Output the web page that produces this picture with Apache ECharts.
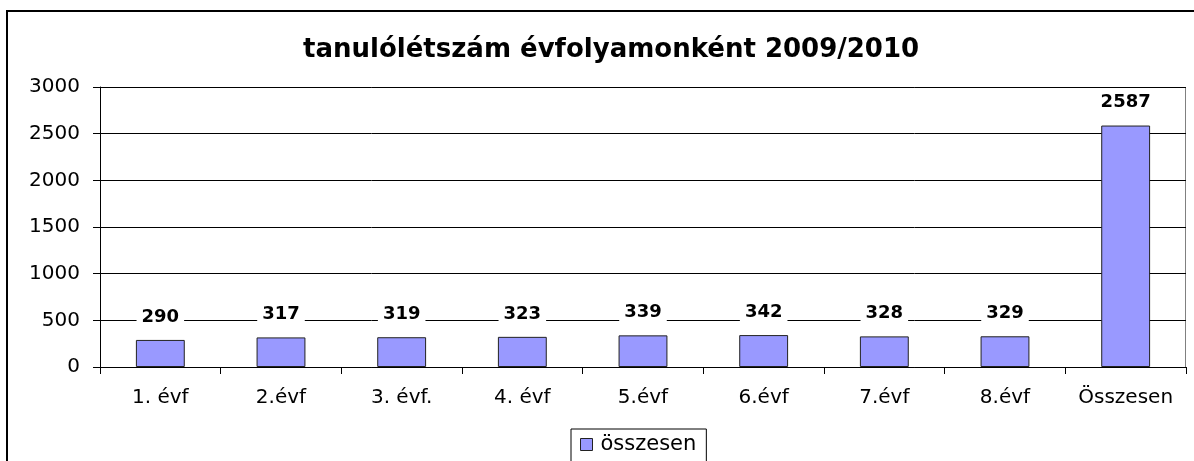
<!DOCTYPE html>
<html>
<head>
<meta charset="utf-8">
<script src="https://cdn.jsdelivr.net/npm/echarts@6/dist/echarts.min.js"></script>
<style>
  html, body { margin: 0; padding: 0; background: #fff; }
  #chart { width: 1194px; height: 461px; }
</style>
</head>
<body>
<div id="chart"></div>
<script>
const categories = ['1. évf', '2.évf', '3. évf.', '4. évf', '5.évf', '6.évf', '7.évf', '8.évf', 'Összesen']
const osszesen = [290, 317, 319, 323, 339, 342, 328, 329, 2587]
const yTicks = [0, 500, 1000, 1500, 2000, 2500, 3000]

const chart = echarts.init(document.getElementById('chart'))
// the original is a bit stretched sideways, DejaVu is wider than Arial
const font = '"DejaVu Sans", Arial, sans-serif'

chart.setOption({
  animation: false,
  textStyle: { fontFamily: font },
  title: {
    text: 'tanulólétszám évfolyamonként 2009/2010',
    left: 298,
    top: 32,
    textStyle: { fontSize: 26, fontWeight: 'bold', color: '#000', fontFamily: font },
  },
  // outer chart border (right/bottom edges fall outside the picture)
  graphic: [
    {
      type: 'rect',
      shape: { x: 7, y: 11, width: 1300, height: 600 },
      style: { fill: 'none', stroke: '#000', lineWidth: 2 },
      silent: true,
    },
    // plot area border top/right (gray)
    {
      type: 'polyline',
      shape: { points: [[100, 87.5], [1185.5, 87.5], [1185.5, 367]] },
      style: { fill: 'none', stroke: '#808080', lineWidth: 1 },
      silent: true,
    },
  ],
  legend: {
    data: ['összesen'],
    left: 571,
    top: 429,
    padding: [5, 10, 10, 9],
    borderColor: '#000',
    borderWidth: 1,
    itemWidth: 12,
    itemHeight: 12,
    itemGap: 4,
    icon: 'rect',
    itemStyle: { borderColor: '#222', borderWidth: 1 },
    textStyle: { fontSize: 21, color: '#000', fontFamily: font, padding: [0, 0, 0, 3] },
  },
  grid: {
    left: 100,
    right: 8,
    top: 87,
    bottom: 94,
    containLabel: false,
  },
  xAxis: {
    type: 'category',
    data: categories,
    axisLine: { lineStyle: { color: '#000', width: 1 } },
    axisTick: { show: true, interval: 0, length: 7, lineStyle: { color: '#000' } },
    axisLabel: { interval: 0, fontSize: 20, color: '#000', margin: 21, fontFamily: font },
  },
  yAxis: {
    type: 'value',
    min: yTicks[0],
    max: yTicks[yTicks.length - 1],
    interval: 500,
    axisLine: { show: true, lineStyle: { color: '#000', width: 1 } },
    axisTick: { show: true, length: 7, lineStyle: { color: '#000' } },
    axisLabel: { fontSize: 20, color: '#000', margin: 20, fontFamily: font, formatter: v => String(v) },
    splitLine: { lineStyle: { color: '#000', width: 1 } },
  },
  series: [
    {
      name: 'összesen',
      type: 'bar',
      data: osszesen,
      barWidth: '40.5%',
      itemStyle: { color: '#9999FF', borderColor: '#222', borderWidth: 1 },
      label: {
        show: true,
        position: 'top',
        distance: 12,
        fontSize: 18,
        fontWeight: 'bold',
        color: '#000',
        fontFamily: font,
        backgroundColor: '#fff',
        padding: [2, 5, 2, 5],
      },
    },
  ],
})
</script>
</body>
</html>
